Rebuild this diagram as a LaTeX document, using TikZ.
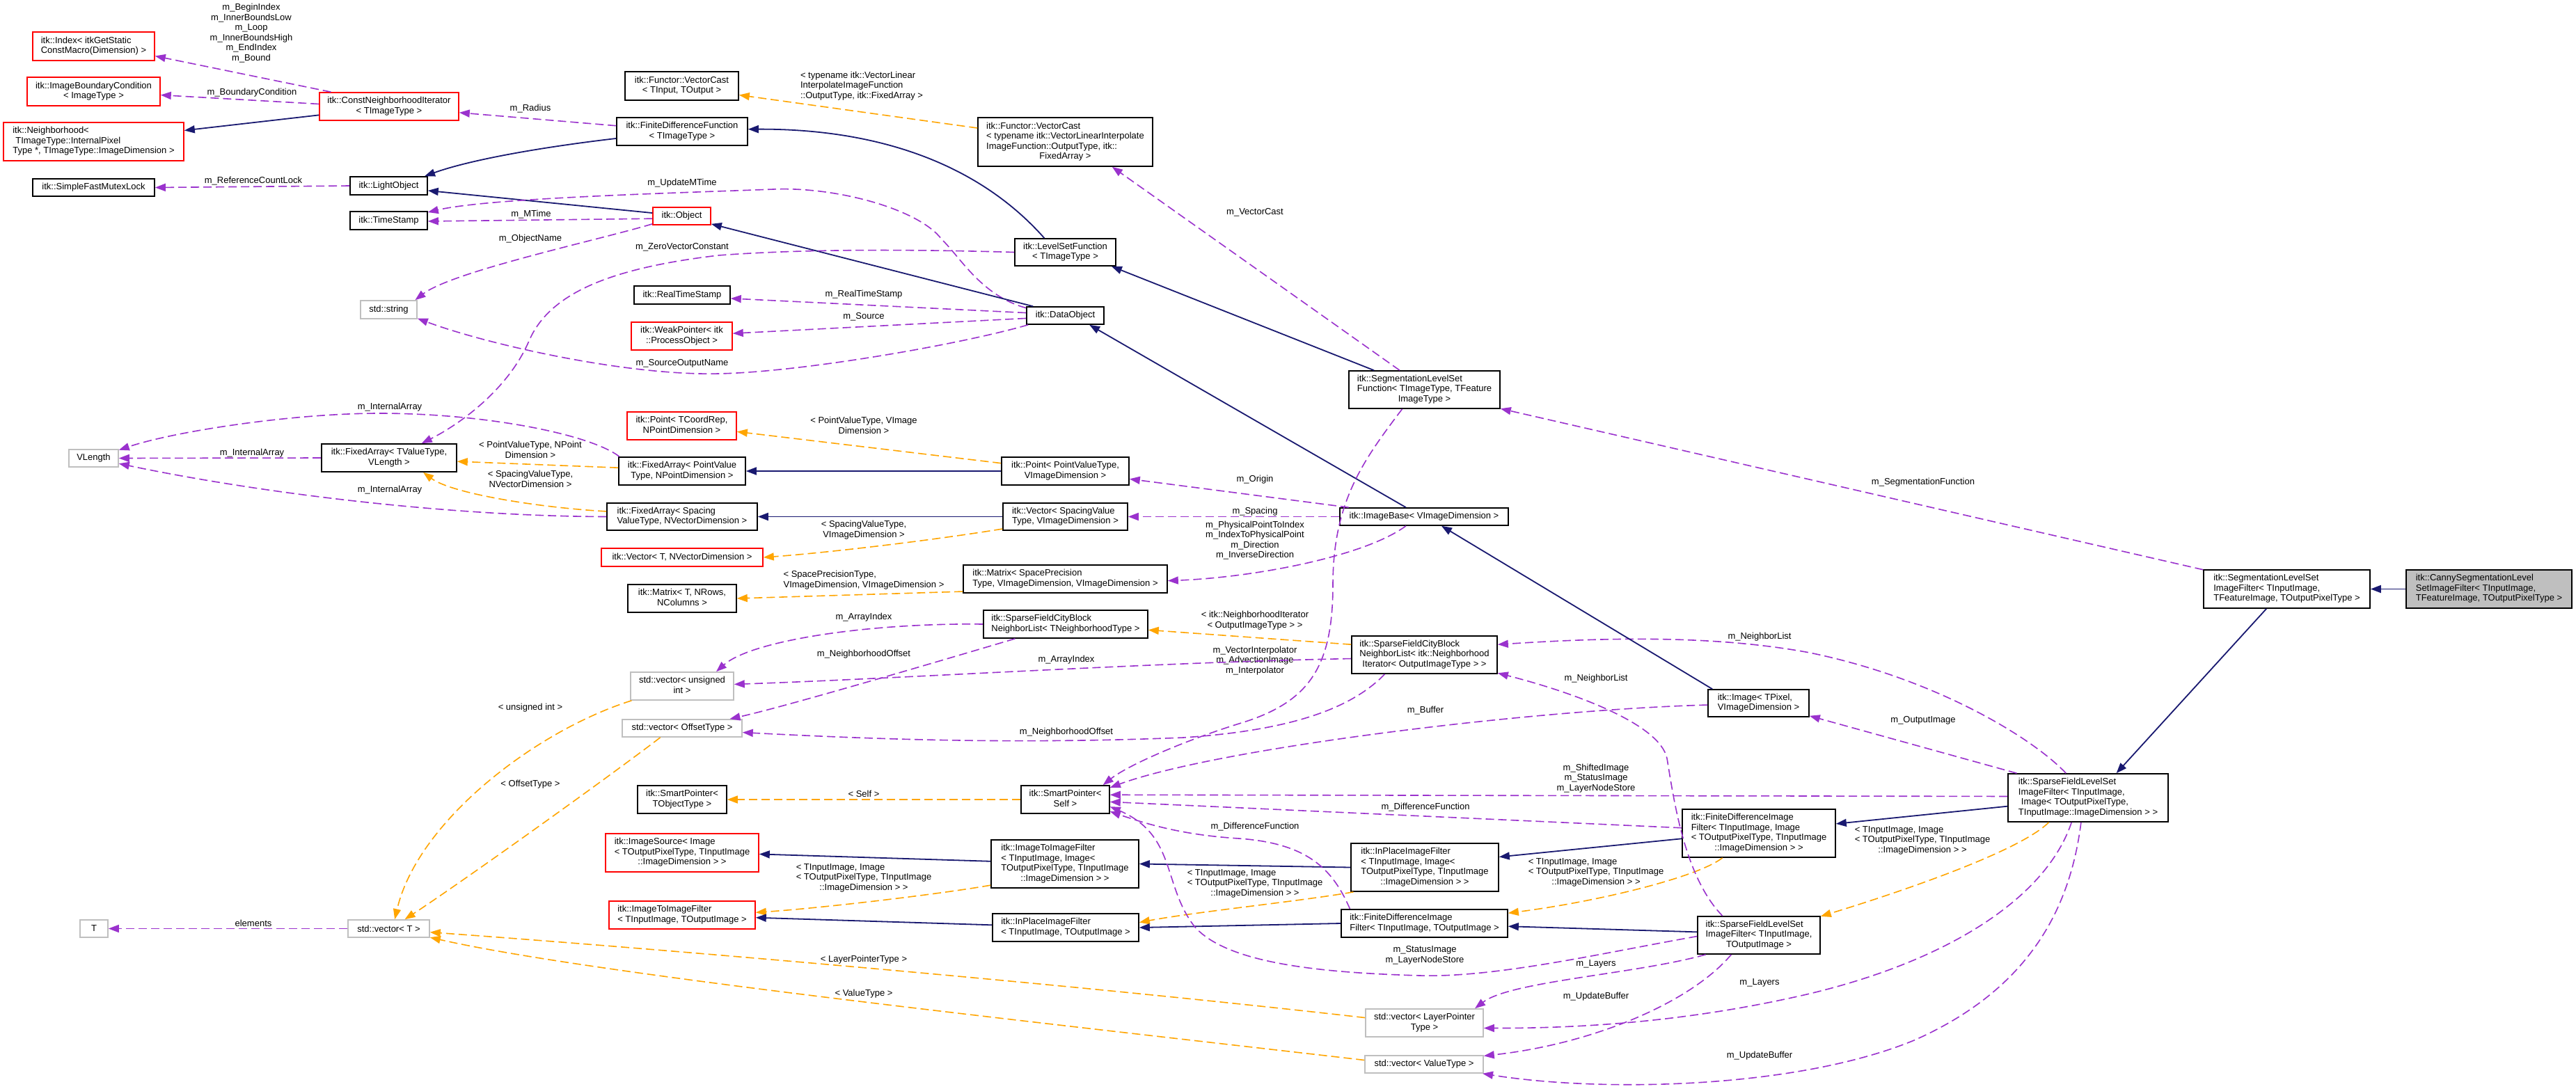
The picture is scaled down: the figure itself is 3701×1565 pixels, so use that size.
\documentclass[tikz,border=0pt]{standalone}
\usepackage{fontspec}
\setmainfont{Liberation Sans}
\usetikzlibrary{arrows.meta}
\definecolor{inh}{HTML}{191970}
\definecolor{use}{HTML}{9A32CD}
\definecolor{tpl}{HTML}{FFA500}
\definecolor{ext}{HTML}{BFBFBF}
\definecolor{undoc}{HTML}{FF0000}
\newcommand{\nl}[1]{\begin{tabular}{@{}l@{}}#1\end{tabular}}
\newcommand{\lc}[1]{\multicolumn{1}{@{}c@{}}{#1}}
\newcommand{\cl}[1]{\begin{tabular}{@{}c@{}}#1\end{tabular}}
\begin{document}
\begin{tikzpicture}[x=1pt,y=-1pt,
  every node/.style={font=\fontsize{13}{14.5}\selectfont},
  cls/.style={draw=black, line width=1.6pt, rectangle, inner sep=0pt, fill=white},
  redcls/.style={cls, draw=undoc},
  extcls/.style={cls, draw=ext},
  sz/.style 2 args={minimum width=#1pt, minimum height=#2pt},
  lbl/.style={inner sep=0pt},
  inhe/.style={draw=inh, line width=1.8pt, -{Triangle[length=15pt,width=11pt]}},
  usee/.style={draw=use, line width=1.6pt, dash pattern=on 12pt off 6pt, -{Triangle[length=15pt,width=11pt]}},
  tple/.style={draw=tpl, line width=1.6pt, dash pattern=on 12pt off 6pt, -{Triangle[length=15pt,width=11pt]}},
]
\fill[white] (0,0) rectangle (3701,1565);
\useasboundingbox (0,0) rectangle (3701,1565);

% ---------- nodes ----------
\node[redcls, sz={175}{41}] (idx) at (134.5,66.5) {\nl{itk::Index< itkGetStatic\\\lc{ConstMacro(Dimension) >}}};
\node[redcls, sz={191}{41}] (ibc) at (134.5,131.5) {\nl{itk::ImageBoundaryCondition\\\lc{< ImageType >}}};
\node[redcls, sz={259}{55}] (nbh) at (134.5,203.5) {\nl{itk::Neighborhood<\\\hspace{4pt}TImageType::InternalPixel\\\lc{Type *, TImageType::ImageDimension >}}};
\node[cls, sz={175}{25}] (sfml) at (134.5,269.5) {itk::SimpleFastMutexLock};
\node[extcls, sz={71}{25}] (vlen) at (134.5,658.5) {VLength};
\node[extcls, sz={40}{25}] (tt) at (135,1334.5) {T};

\node[redcls, sz={200}{40}] (cni) at (559,153) {\nl{itk::ConstNeighborhoodIterator\\\lc{< TImageType >}}};
\node[cls, sz={111}{26}] (lo) at (558.5,267) {itk::LightObject};
\node[cls, sz={111}{26}] (ts) at (558.5,317) {itk::TimeStamp};
\node[extcls, sz={81}{26}] (str) at (558.5,445) {std::string};
\node[cls, sz={194}{40}] (fatv) at (559,658) {\nl{itk::FixedArray< TValueType,\\\lc{VLength >}}};
\node[extcls, sz={117}{25}] (vt) at (558.5,1334.5) {std::vector< T >};

\node[cls, sz={163}{41}] (vcio) at (979.5,123.5) {\nl{itk::Functor::VectorCast\\\lc{< TInput, TOutput >}}};
\node[cls, sz={188}{40}] (fdf) at (980,189) {\nl{itk::FiniteDifferenceFunction\\\lc{< TImageType >}}};
\node[redcls, sz={83}{25}] (obj) at (979.5,310.5) {itk::Object};
\node[cls, sz={138}{26}] (rts) at (980,424) {itk::RealTimeStamp};
\node[redcls, sz={145}{40}] (wp) at (979.5,483) {\nl{itk::WeakPointer< itk\\\lc{::ProcessObject >}}};
\node[redcls, sz={157}{40}] (pt) at (979.5,612) {\nl{itk::Point< TCoordRep,\\\lc{NPointDimension >}}};
\node[cls, sz={182}{40}] (fapv) at (980,677) {\nl{itk::FixedArray< PointValue\\\lc{Type, NPointDimension >}}};
\node[cls, sz={216}{39}] (fasv) at (980,742.5) {\nl{itk::FixedArray< Spacing\\\lc{ValueType, NVectorDimension >}}};
\node[redcls, sz={232}{26}] (vec) at (980,801) {itk::Vector< T, NVectorDimension >};
\node[cls, sz={156}{40}] (mat) at (980,860) {\nl{itk::Matrix< T, NRows,\\\lc{NColumns >}}};
\node[extcls, sz={148}{40}] (vui) at (980,986) {\nl{std::vector< unsigned\\\lc{int >}}};
\node[extcls, sz={172}{25}] (voff) at (980,1046.5) {std::vector< OffsetType >};
\node[cls, sz={128}{40}] (sptt) at (980,1149) {\nl{itk::SmartPointer<\\\lc{TObjectType >}}};
\node[redcls, sz={220}{55}] (isrc) at (980,1225.5) {\nl{itk::ImageSource< Image\\< TOutputPixelType, TInputImage\\\lc{::ImageDimension > >}}};
\node[redcls, sz={210}{40}] (itio) at (980,1315) {\nl{itk::ImageToImageFilter\\\lc{< TInputImage, TOutputImage >}}};

\node[cls, sz={251}{70}] (vctn) at (1530.5,204) {\nl{itk::Functor::VectorCast\\< typename itk::VectorLinearInterpolate\\ImageFunction::OutputType, itk::\\\lc{FixedArray >}}};
\node[cls, sz={145}{39}] (lsf) at (1530.5,362.5) {\nl{itk::LevelSetFunction\\\lc{< TImageType >}}};
\node[cls, sz={111}{25}] (dobj) at (1530.5,453.5) {itk::DataObject};
\node[cls, sz={183}{40}] (ppv) at (1530.5,677) {\nl{itk::Point< PointValueType,\\\lc{VImageDimension >}}};
\node[cls, sz={179}{39}] (vsv) at (1530.5,742.5) {\nl{itk::Vector< SpacingValue\\\lc{Type, VImageDimension >}}};
\node[cls, sz={293}{40}] (msp) at (1530.5,832) {\nl{itk::Matrix< SpacePrecision\\\lc{Type, VImageDimension, VImageDimension >}}};
\node[cls, sz={236}{40}] (sfcbt) at (1531,897) {\nl{itk::SparseFieldCityBlock\\\lc{NeighborList< TNeighborhoodType >}}};
\node[cls, sz={127}{40}] (sps) at (1530.5,1149) {\nl{itk::SmartPointer<\\\lc{Self >}}};
\node[cls, sz={212}{69}] (itii) at (1530,1241.5) {\nl{itk::ImageToImageFilter\\< TInputImage, Image<\\TOutputPixelType, TInputImage\\\lc{::ImageDimension > >}}};
\node[cls, sz={210}{40}] (ipto) at (1531,1333) {\nl{itk::InPlaceImageFilter\\\lc{< TInputImage, TOutputImage >}}};

\node[cls, sz={217}{54}] (slsf) at (2046.5,560) {\nl{itk::SegmentationLevelSet\\Function< TImageType, TFeature\\\lc{ImageType >}}};
\node[cls, sz={242}{25}] (ib) at (2046,742.5) {itk::ImageBase< VImageDimension >};
\node[cls, sz={209}{54}] (sfcbn) at (2046.5,941) {\nl{itk::SparseFieldCityBlock\\NeighborList< itk::Neighborhood\\\lc{Iterator< OutputImageType > >}}};
\node[cls, sz={212}{69}] (ipii) at (2047,1246.5) {\nl{itk::InPlaceImageFilter\\< TInputImage, Image<\\TOutputPixelType, TInputImage\\\lc{::ImageDimension > >}}};
\node[cls, sz={239}{40}] (fdto) at (2046.5,1327) {\nl{itk::FiniteDifferenceImage\\\lc{Filter< TInputImage, TOutputImage >}}};
\node[extcls, sz={169}{40}] (vlp) at (2046.5,1470) {\nl{std::vector< LayerPointer\\\lc{Type >}}};
\node[extcls, sz={170}{25}] (vvt) at (2046,1529.5) {std::vector< ValueType >};

\node[cls, sz={145}{39}] (img) at (2526.5,1010.5) {\nl{itk::Image< TPixel,\\\lc{VImageDimension >}}};
\node[cls, sz={220}{69}] (fdii) at (2527,1197.5) {\nl{itk::FiniteDifferenceImage\\Filter< TInputImage, Image\\< TOutputPixelType, TInputImage\\\lc{::ImageDimension > >}}};
\node[cls, sz={176}{54}] (sfto) at (2527,1344) {\nl{itk::SparseFieldLevelSet\\ImageFilter< TInputImage,\\\lc{TOutputImage >}}};

\node[cls, sz={230}{69}] (sfii) at (3000,1146.5) {\nl{itk::SparseFieldLevelSet\\ImageFilter< TInputImage,\\\hspace{4pt}Image< TOutputPixelType,\\\lc{TInputImage::ImageDimension > >}}};
\node[cls, sz={239}{55}] (slsif) at (3285.5,846.5) {\nl{itk::SegmentationLevelSet\\ImageFilter< TInputImage,\\\lc{TFeatureImage, TOutputPixelType >}}};
\node[cls, fill=ext, sz={238}{55}] (canny) at (3576,846.5) {\nl{itk::CannySegmentationLevel\\SetImageFilter< TInputImage,\\\lc{TFeatureImage, TOutputPixelType >}}};

% ---------- edge labels ----------
\node[lbl] (l1) at (361,48) {\cl{m\_BeginIndex\\m\_InnerBoundsLow\\m\_Loop\\m\_InnerBoundsHigh\\m\_EndIndex\\m\_Bound}};
\node[lbl] (l2) at (362,133) {m\_BoundaryCondition};
\node[lbl] (l3) at (762,156) {m\_Radius};
\node[lbl] (l4) at (364,260) {m\_ReferenceCountLock};
\node[lbl] (l5) at (763,308) {m\_MTime};
\node[lbl] (l6) at (762,343) {m\_ObjectName};
\node[lbl] (l7) at (980,263) {m\_UpdateMTime};
\node[lbl] (l8) at (980,355) {m\_ZeroVectorConstant};
\node[lbl] (l9) at (1241,423) {m\_RealTimeStamp};
\node[lbl] (l10) at (1241,455) {m\_Source};
\node[lbl] (l11) at (980,522) {m\_SourceOutputName};
\node[lbl] (l12) at (1238,124) {\nl{< typename itk::VectorLinear\\InterpolateImageFunction\\\lc{::OutputType, itk::FixedArray >}}};
\node[lbl] (l13) at (1803,305) {m\_VectorCast};
\node[lbl] (l14) at (560,585) {m\_InternalArray};
\node[lbl] (l15) at (362,651) {m\_InternalArray};
\node[lbl] (l16) at (560,704) {m\_InternalArray};
\node[lbl] (l17) at (762,648) {\nl{< PointValueType, NPoint\\\lc{Dimension >}}};
\node[lbl] (l18) at (762,690) {\nl{< SpacingValueType,\\\lc{NVectorDimension >}}};
\node[lbl] (l19) at (762,1017) {< unsigned int >};
\node[lbl] (l20) at (762,1127) {< OffsetType >};
\node[lbl] (l21) at (364,1327) {elements};
\node[lbl] (l22) at (1241,613) {\nl{< PointValueType, VImage\\\lc{Dimension >}}};
\node[lbl] (l23) at (1241,762) {\nl{< SpacingValueType,\\\lc{VImageDimension >}}};
\node[lbl] (l24) at (1241,834) {\nl{< SpacePrecisionType,\\\lc{VImageDimension, VImageDimension >}}};
\node[lbl] (l25) at (1241,887) {m\_ArrayIndex};
\node[lbl] (l26) at (1241,940) {m\_NeighborhoodOffset};
\node[lbl] (l27) at (1532,948) {m\_ArrayIndex};
\node[lbl] (l28) at (1532,1052) {m\_NeighborhoodOffset};
\node[lbl] (l29) at (1241,1141) {< Self >};
\node[lbl] (l30) at (1241,1262) {\nl{< TInputImage, Image\\< TOutputPixelType, TInputImage\\\lc{::ImageDimension > >}}};
\node[lbl] (l31) at (1241,1379) {< LayerPointerType >};
\node[lbl] (l32) at (1241,1428) {< ValueType >};
\node[lbl] (l33) at (1803,689) {m\_Origin};
\node[lbl] (l34) at (1803,735) {m\_Spacing};
\node[lbl] (l35) at (1803,777) {\cl{m\_PhysicalPointToIndex\\m\_IndexToPhysicalPoint\\m\_Direction\\m\_InverseDirection}};
\node[lbl] (l36) at (1803,892) {\nl{< itk::NeighborhoodIterator\\\lc{< OutputImageType > >}}};
\node[lbl] (l37) at (1803,950) {\cl{m\_VectorInterpolator\\m\_AdvectionImage\\m\_Interpolator}};
\node[lbl] (l38) at (1803,1188) {m\_DifferenceFunction};
\node[lbl] (l39) at (1803,1270) {\nl{< TInputImage, Image\\< TOutputPixelType, TInputImage\\\lc{::ImageDimension > >}}};
\node[lbl] (l40) at (2048,1021) {m\_Buffer};
\node[lbl] (l41) at (2048,1160) {m\_DifferenceFunction};
\node[lbl] (l42) at (2047,1373) {\cl{m\_StatusImage\\m\_LayerNodeStore}};
\node[lbl] (l43) at (2293,1119) {\cl{m\_ShiftedImage\\m\_StatusImage\\m\_LayerNodeStore}};
\node[lbl] (l44) at (2293,1254) {\nl{< TInputImage, Image\\< TOutputPixelType, TInputImage\\\lc{::ImageDimension > >}}};
\node[lbl] (l45) at (2293,975) {m\_NeighborList};
\node[lbl] (l46) at (2293,1385) {m\_Layers};
\node[lbl] (l47) at (2293,1432) {m\_UpdateBuffer};
\node[lbl] (l48) at (2528,915) {m\_NeighborList};
\node[lbl] (l49) at (2528,1412) {m\_Layers};
\node[lbl] (l50) at (2528,1517) {m\_UpdateBuffer};
\node[lbl] (l51) at (2763,693) {m\_SegmentationFunction};
\node[lbl] (l52) at (2763,1035) {m\_OutputImage};
\node[lbl] (l53) at (2762,1208) {\nl{< TInputImage, Image\\< TOutputPixelType, TInputImage\\\lc{::ImageDimension > >}}};

% ---------- edges ----------
\draw[usee] (cni.166) -- (idx.-9);
\draw[usee] (cni.178) -- (ibc.-3);
\draw[inhe] (cni.187) -- (nbh.7);
\draw[usee] (fdf.175) -- (cni.-5);
\draw[inhe] (fdf.186) .. controls (790,210) and (680,228) .. (lo.15);
\draw[usee] (lo.west) -- (sfml.east);
\draw[inhe] (obj.174) -- (lo.-7);
\draw[usee] (obj.185) -- (ts.-1);
\draw[usee] (dobj.169) .. controls (1410,425) and (1380,370) .. (1353,344) .. controls (1320,300) and (1200,268) .. (1111,272) .. controls (950,278) and (700,285) .. (ts.12);
\draw[usee] (obj.195) .. controls (860,345) and (650,390) .. (str.20);
\draw[inhe] (dobj.164) -- (obj.-15);
\draw[inhe] (lsf.146) .. controls (1410,240) and (1270,185) .. (fdf.2);
\draw[usee] (lsf.west) .. controls (1300,358) and (1150,358) .. (1032,367) .. controls (880,385) and (790,420) .. (760,490) .. controls (730,560) and (660,610) .. (fatv.24);
\draw[usee] (dobj.176) -- (rts.-4);
\draw[usee] (dobj.184) -- (wp.3);
\draw[usee] (dobj.194) .. controls (1380,495) and (1150,535) .. (1032,537) .. controls (900,540) and (700,495) .. (str.-17);
\draw[inhe] (slsf.159) -- (lsf.-17);
\draw[usee] (slsf.142) -- (vctn.-28);
\draw[tple] (vctn.171) -- (vcio.-9);
\draw[inhe] (ib.153) -- (dobj.-21);

\draw[usee] (fatv.west) -- (vlen.east);
\draw[usee] (fapv.167) .. controls (850,625) and (700,594) .. (545,594) .. controls (420,594) and (250,620) .. (vlen.18);
\draw[usee] (fasv.west) .. controls (650,742) and (380,710) .. (vlen.-12);
\draw[tple] (fapv.177) -- (fatv.-3);
\draw[tple] (fasv.176) .. controls (780,730) and (650,710) .. (fatv.-23);

\draw[inhe] (ppv.west) -- (fapv.east);
\draw[tple] (ppv.173) -- (pt.-6);
\draw[inhe] (vsv.west) -- (fasv.east);
\draw[tple] (vsv.191) .. controls (1330,778) and (1180,795) .. (vec.east);
\draw[tple] (msp.187) -- (mat.east);
\draw[usee] (ib.173) -- (ppv.-7);
\draw[usee] (ib.west) -- (vsv.east);
\draw[usee] (ib.207) .. controls (1960,800) and (1800,830) .. (msp.-1);

\draw[usee] (sfcbt.west) .. controls (1250,895) and (1080,920) .. (vui.23);
\draw[usee] (sfcbt.196) .. controls (1350,950) and (1130,1015) .. (voff.11);
\draw[tple] (sfcbn.172) -- (sfcbt.-4);
\draw[usee] (sfcbn.183) .. controls (1650,952) and (1300,975) .. (vui.2);
\draw[usee] (sfcbn.206) .. controls (1940,1020) and (1850,1050) .. (1700,1060) .. controls (1450,1070) and (1250,1062) .. (voff.-4);

\draw[tple] (vui.196) .. controls (770,1050) and (600,1180) .. (vt.57);
\draw[tple] (voff.203) .. controls (870,1120) and (660,1270) .. (vt.30);
\draw[usee] (vt.west) -- (tt.east);
\draw[tple] (vlp.175) .. controls (1500,1410) and (900,1360) .. (vt.-5);
\draw[tple] (vvt.176) .. controls (1500,1470) and (850,1400) .. (vt.-12);

\draw[tple] (sps.west) -- (sptt.east);
\draw[inhe] (itii.178) -- (isrc.-1);
\draw[tple] (itii.196) .. controls (1350,1285) and (1180,1305) .. (itio.2);
\draw[inhe] (ipto.178) -- (itio.-2);
\draw[inhe] (ipii.west) -- (itii.east);
\draw[tple] (ipii.199) .. controls (1870,1295) and (1720,1310) .. (ipto.4);
\draw[inhe] (fdto.west) -- (ipto.east);
\draw[inhe] (fdii.184) -- (ipii.8);
\draw[tple] (fdii.214) .. controls (2440,1260) and (2300,1295) .. (fdto.7);
\draw[inhe] (sfto.177) -- (fdto.-2);
\draw[inhe] (sfii.186) -- (fdii.7);
\draw[tple] (sfii.212) .. controls (2900,1225) and (2720,1285) .. (sfto.17);
\draw[inhe] (slsif.224) -- (sfii.41);
\draw[inhe] (canny.west) -- (slsif.east);
\draw[usee] (slsif.167) -- (slsf.-14);
\draw[usee] (sfii.161) -- (img.-14);
\draw[usee] (sfii.132) .. controls (2920,1060) and (2780,975) .. (2600,938) .. controls (2450,910) and (2280,918) .. (sfcbn.8);
\draw[usee] (sfto.152) .. controls (2420,1260) and (2405,1150) .. (2395,1090) .. controls (2385,1040) and (2260,995) .. (sfcbn.-14);
\draw[usee] (slsf.221) .. controls (1960,660) and (1915,720) .. (1915,840) .. controls (1915,960) and (1880,1010) .. (1780,1040) .. controls (1700,1065) and (1620,1100) .. (sps.21);
\draw[usee] (img.182) .. controls (2200,1020) and (1750,1075) .. (sps.15);
\draw[usee] (sfii.179) -- (sps.6);
\draw[usee] (fdii.176) -- (sps.-3);
\draw[usee] (fdto.169) .. controls (1915,1250) and (1880,1212) .. (1780,1205) .. controls (1700,1200) and (1650,1185) .. (sps.-15);
\draw[usee] (sfto.181) .. controls (2300,1370) and (2150,1405) .. (2040,1402) .. controls (1900,1398) and (1760,1385) .. (1715,1330) .. controls (1670,1270) and (1690,1200) .. (sps.-9);
\draw[usee] (sfto.200) .. controls (2350,1400) and (2170,1410) .. (vlp.16);
\draw[usee] (sfto.215) .. controls (2430,1440) and (2290,1500) .. (vvt.8);
\draw[usee] (sfii.236) .. controls (2940,1290) and (2800,1380) .. (2600,1428) .. controls (2450,1463) and (2300,1478) .. (vlp.-5);
\draw[usee] (sfii.254) .. controls (2975,1300) and (2920,1420) .. (2750,1495) .. controls (2580,1565) and (2300,1570) .. (vvt.-9);
\draw[inhe] (img.163) -- (ib.-28);
\end{tikzpicture}
\end{document}
